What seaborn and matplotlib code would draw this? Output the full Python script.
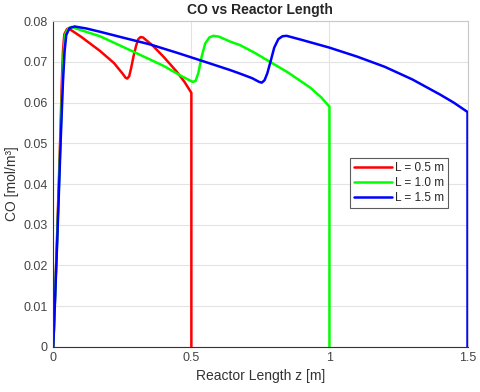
import numpy as np
import pandas as pd
import matplotlib
matplotlib.use("Agg")
import matplotlib.pyplot as plt
import seaborn as sns

# -----------------------------
# Data
# -----------------------------
z_05 = [0, 0.013, 0.025, 0.031, 0.035, 0.040, 0.050, 0.056, 0.100, 0.169, 0.220,
        0.250, 0.262, 0.268, 0.275, 0.282, 0.290, 0.300, 0.308, 0.316, 0.325,
        0.330, 0.360, 0.400, 0.447, 0.475, 0.500, 0.500]
co_05 = [0, 0.0255, 0.0510, 0.0650, 0.0726, 0.0768, 0.0781, 0.0782, 0.0762, 0.0727, 0.0697,
         0.0672, 0.0661, 0.0659, 0.0665, 0.0685, 0.0712, 0.0740, 0.0756, 0.0761, 0.0760,
         0.0757, 0.0740, 0.0712, 0.0676, 0.0651, 0.0624, 0]

z_10 = [0, 0.0135, 0.026, 0.033, 0.038, 0.043, 0.055, 0.066, 0.100, 0.169, 0.290,
        0.400, 0.459, 0.490, 0.505, 0.515, 0.525, 0.537, 0.550, 0.565, 0.580,
        0.600, 0.640, 0.677, 0.730, 0.785, 0.850, 0.930, 0.970, 1.000, 1.000]
co_10 = [0, 0.0255, 0.0510, 0.0650, 0.0726, 0.0767, 0.0783, 0.0786, 0.0778, 0.0763, 0.0725,
         0.0690, 0.0667, 0.0656, 0.0651, 0.0653, 0.0672, 0.0712, 0.0745, 0.0760, 0.0764,
         0.0762, 0.0750, 0.0741, 0.0722, 0.0700, 0.0674, 0.0637, 0.0613, 0.0590, 0]

z_15 = [0, 0.014, 0.027, 0.035, 0.041, 0.047, 0.059, 0.077, 0.120, 0.169, 0.250,
        0.350, 0.450, 0.550, 0.640, 0.677, 0.720, 0.745, 0.755, 0.765, 0.775,
        0.788, 0.800, 0.815, 0.830, 0.845, 0.900, 1.000, 1.100, 1.200, 1.300,
        1.400, 1.450, 1.500, 1.500]
co_15 = [0, 0.0255, 0.0510, 0.0650, 0.0726, 0.0766, 0.0783, 0.0787, 0.0782, 0.0774, 0.0760,
         0.0743, 0.0722, 0.0700, 0.0680, 0.0671, 0.0660, 0.0651, 0.0649, 0.0655, 0.0672,
         0.0704, 0.0735, 0.0756, 0.0763, 0.0764, 0.0754, 0.0735, 0.0713, 0.0688, 0.0657,
         0.0620, 0.0600, 0.0577, 0]

case_labels = ["L = 0.5 m", "L = 1.0 m", "L = 1.5 m"]
colors = ["#ff0000", "#00ff00", "#0000ff"]

df = pd.concat([
    pd.DataFrame({"z": z_05, "co": co_05, "case": case_labels[0]}),
    pd.DataFrame({"z": z_10, "co": co_10, "case": case_labels[1]}),
    pd.DataFrame({"z": z_15, "co": co_15, "case": case_labels[2]}),
], ignore_index=True)

# -----------------------------
# Plot
# -----------------------------
sns.set_style("whitegrid")
plt.rcParams["font.family"] = ["Liberation Sans", "DejaVu Sans"]

fig = plt.figure(figsize=(4.8, 3.92), dpi=100)
ax = fig.add_axes([0.111, 0.115, 0.863, 0.831])

sns.lineplot(data=df, x="z", y="co", hue="case", palette=colors,
             sort=False, estimator=None, linewidth=1.8, ax=ax)

ax.set_xlim(0, 1.5)
ax.set_ylim(0, 0.08)
ax.set_xticks([0, 0.5, 1, 1.5])
ax.set_xticklabels(["0", "0.5", "1", "1.5"])
ax.set_yticks(np.arange(0, 0.081, 0.01))
ax.set_yticklabels(["0", "0.01", "0.02", "0.03", "0.04", "0.05", "0.06", "0.07", "0.08"])

ax.grid(True, color="#e3e3e3", linewidth=0.8)
ax.tick_params(direction="in", length=3, width=0.6, labelsize=9,
               colors="#444444", labelcolor="#444444", pad=4)
for side in ["left", "bottom"]:
    ax.spines[side].set_color("#333333")
    ax.spines[side].set_linewidth(0.8)
for side in ["top", "right"]:
    ax.spines[side].set_color("#c8c8c8")
    ax.spines[side].set_linewidth(0.8)

ax.set_title("CO vs Reactor Length", fontsize=10, fontweight="bold", pad=5)
ax.set_xlabel("Reactor Length z [m]", fontsize=10, color="#333333", labelpad=3)
ax.set_ylabel("CO [mol/m³]", fontsize=10, color="#333333", labelpad=3)

handles, labels = ax.get_legend_handles_labels()
leg = ax.legend(handles, labels, loc="upper left", bbox_to_anchor=(0.717, 0.58),
                borderaxespad=0, fontsize=8.5, frameon=True, fancybox=False,
                edgecolor="#333333", handlelength=3.2, handletextpad=0.2,
                labelspacing=0.25, borderpad=0.35)
leg.get_frame().set_linewidth(0.8)

fig.savefig("out.png", dpi=100)
